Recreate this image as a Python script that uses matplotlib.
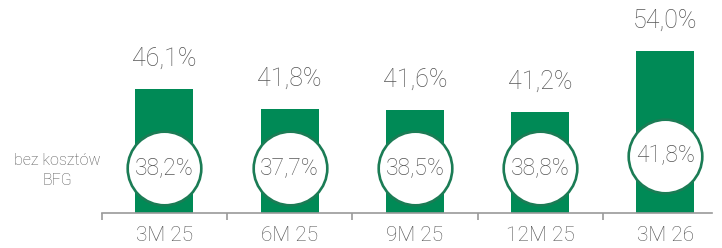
import matplotlib
matplotlib.use("Agg")
import matplotlib.pyplot as plt

periods = ["3M 25", "6M 25", "9M 25", "12M 25", "3M 26"]
total_ratio = [46.1, 41.8, 41.6, 41.2, 54.0]
ex_bfg_ratio = [38.2, 37.7, 38.5, 38.8, 41.8]

green = "#008a56"
ring = "#1b7c55"
grey = "#565656"
axis_grey = "#9a9a9a"

plt.rcParams["font.family"] = ["Roboto", "DejaVu Sans"]
wt = "light"

fig = plt.figure(figsize=(7.22, 2.48), dpi=100)
ax = fig.add_axes([0.1409, 0.1411, 0.986 - 0.1409, 1 - 0.1411])

x = list(range(len(periods)))
ax.bar(x, total_ratio, width=0.463, color=green, bottom=0, zorder=1)
ax.set_ylim(20, 64.75)
ax.set_xlim(-0.5, 4.371)

for i, v in enumerate(total_ratio):
    ax.annotate(f"{v:.1f}%".replace(".", ","), (i, v), xytext=(0, 13),
                textcoords="offset points", ha="center", va="bottom",
                fontsize=18, color=grey, fontweight=wt)

# circles sit at a fixed height, the last one a bit higher
circle_y = [29.45] * 4 + [31.97]
ax.scatter(x, circle_y, s=53 ** 2, facecolor="white", edgecolor=ring,
           linewidth=1.9, zorder=3)
for i, v in enumerate(ex_bfg_ratio):
    ax.text(i, circle_y[i], f"{v:.1f}%".replace(".", ","), ha="center",
            va="center", fontsize=16.5, color=grey, fontweight=wt, zorder=4)

ax.text(-0.855, 29.0, "bez kosztów\nBFG", ha="center", va="center",
        fontsize=11.5, color=grey, linespacing=1.4, fontweight=wt,
        clip_on=False)

for s in ["top", "right", "left"]:
    ax.spines[s].set_visible(False)
ax.spines["bottom"].set_color(axis_grey)
ax.spines["bottom"].set_linewidth(1.2)
ax.set_yticks([])
ax.set_xticks(x)
ax.set_xticklabels(periods, fontsize=15, color=grey, fontweight=wt)
ax.tick_params(axis="x", which="major", length=0, pad=9)
ax.set_xticks([i - 0.5 for i in x], minor=True)
ax.tick_params(axis="x", which="minor", length=5, color=axis_grey, width=1.2)

fig.savefig("out.png", dpi=100)
